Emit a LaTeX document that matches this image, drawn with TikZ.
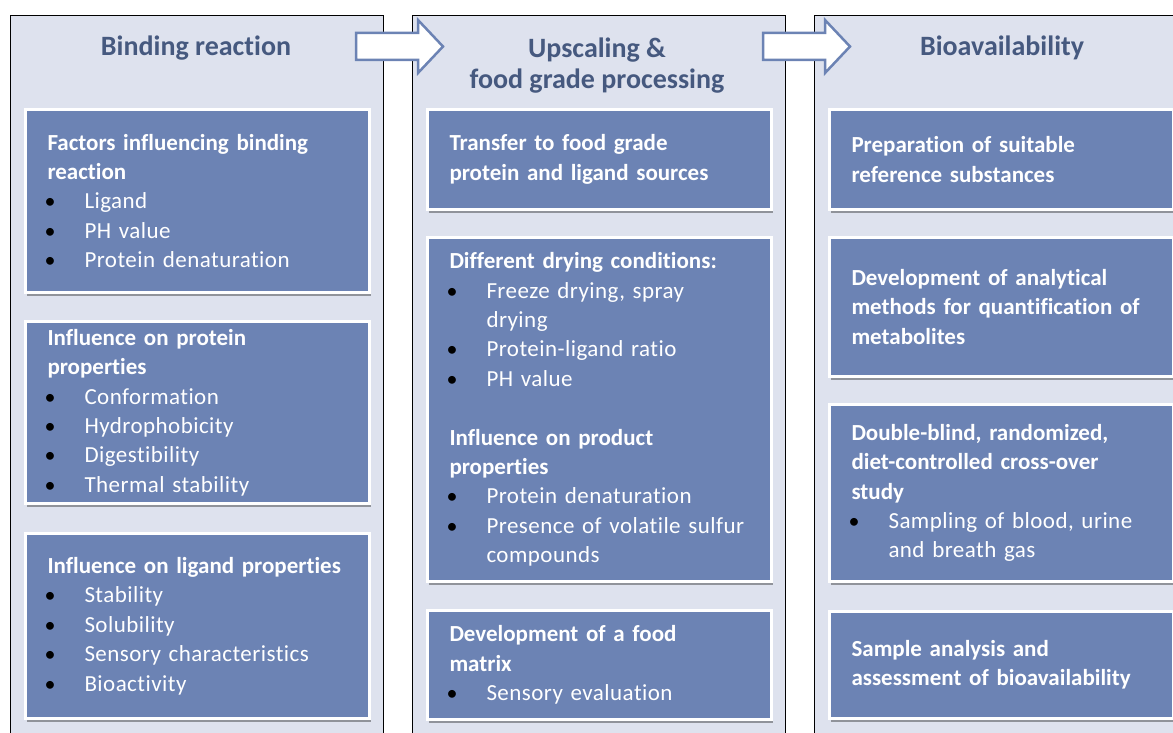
\documentclass[tikz,border=0pt]{standalone}
\usepackage{fontspec}
\setmainfont{Carlito}[Ligatures = NoCommon]
\newfontfamily\itemfont[LetterSpace = 2, Ligatures = NoCommon]{Carlito}
\usetikzlibrary{shadows}

\definecolor{panelbg}{HTML}{DEE2EE}
\definecolor{boxblue}{HTML}{6C83B4}
\definecolor{headblue}{HTML}{46597F}

% bullet line and its continuation
\newcommand{\bul}[1]{\makebox[37pt][l]{\hspace*{-3pt}\color{black}\fontsize{22}{22}\selectfont\textbullet}{\itemfont #1}}
\newcommand{\cont}[1]{\hspace*{37pt}{\itemfont #1}}

\tikzset{
  panel/.style = {draw = black, line width = 1.2pt, fill = panelbg, anchor = north west,
                  minimum width = 373pt, minimum height = 760pt},
  heading/.style = {text = headblue, font = \fontsize{28}{31}\selectfont\bfseries, align = center},
  infobox/.style = {draw = white, line width = 3pt, fill = boxblue, text = white,
                    anchor = north west, align = left, inner xsep = 22pt,
                    text width = 300pt, font = \fontsize{23}{29.4}\selectfont,
                    drop shadow = {shadow xshift = 1.5pt, shadow yshift = -3pt,
                                   fill = black, opacity = .35}},
  blockarrow/.style = {draw = boxblue, line width = 2.5pt, fill = white, line join = miter}
}

\begin{document}
\begin{tikzpicture}[x = 1pt, y = -1pt]

	\useasboundingbox (0, 0) rectangle (1173, 733);
	\clip (0, 0) rectangle (1173, 733);

	% Three columns

	\node [panel] (colBind) at (10, 15) {};
	\node [panel] (colScale) at (412, 15) {};
	\node [panel] (colBio) at (814, 15) {};

	\node [heading] (headBind) at (196, 48) {Binding reaction};
	\node [heading] (headScale) at (597, 66) {Upscaling \&\\food grade processing};
	\node [heading] (headBio) at (1002, 48) {Bioavailability};

	% Block arrows between columns

	\draw [blockarrow] (356, 33) -- (418, 33) -- (418, 20) -- (443, 46.5) -- (418, 73) -- (418, 60) -- (356, 60) -- cycle;
	\draw [blockarrow] (763, 33) -- (825, 33) -- (825, 20) -- (850, 46.5) -- (825, 73) -- (825, 60) -- (763, 60) -- cycle;

	% Binding reaction

	\node [infobox, minimum height = 183pt] (bindFactors) at (24, 108)
		{\textbf{Factors influencing binding}\\ \textbf{reaction}\\ \bul{Ligand}\\ \bul{PH value}\\ \bul{Protein denaturation}};
	\node [infobox, minimum height = 182pt] (bindProtein) at (24, 320)
		{\textbf{Influence on protein}\\ \textbf{properties}\\ \bul{Conformation}\\ \bul{Hydrophobicity}\\ \bul{Digestibility}\\ \bul{Thermal stability}};
	\node [infobox, minimum height = 185pt] (bindLigand) at (24, 532)
		{\textbf{Influence on ligand properties}\\ \bul{Stability}\\ \bul{Solubility}\\ \bul{Sensory characteristics}\\ \bul{Bioactivity}};

	% Upscaling and food grade processing

	\node [infobox, minimum height = 100pt] (scaleTransfer) at (426, 108)
		{\textbf{Transfer to food grade}\\ \textbf{protein and ligand sources}};
	\node [infobox, minimum height = 344pt] (scaleDrying) at (426, 236)
		{\textbf{Different drying conditions:}\\ \bul{Freeze drying, spray}\\ \cont{drying}\\ \bul{Protein-ligand ratio}\\ \bul{PH value}\\[29.4pt]
		 \textbf{Influence on product}\\ \textbf{properties}\\ \bul{Protein denaturation}\\ \bul{Presence of volatile sulfur}\\ \cont{compounds}};
	\node [infobox, minimum height = 109pt] (scaleMatrix) at (426, 609)
		{\textbf{Development of a food}\\ \textbf{matrix}\\ \bul{Sensory evaluation}};

	% Bioavailability

	\node [infobox, minimum height = 100pt] (bioReference) at (828, 108)
		{\textbf{Preparation of suitable}\\ \textbf{reference substances}};
	\node [infobox, minimum height = 139pt] (bioMethods) at (828, 236)
		{\textbf{Development of analytical}\\ \textbf{methods for quantification of}\\ \textbf{metabolites}};
	\node [infobox, minimum height = 177pt] (bioStudy) at (828, 403)
		{\textbf{Double-blind, randomized,}\\ \textbf{diet-controlled cross-over}\\ \textbf{study}\\ \bul{Sampling of blood, urine}\\ \cont{and breath gas}};
	\node [infobox, minimum height = 107pt] (bioAnalysis) at (828, 610)
		{\textbf{Sample analysis and}\\ \textbf{assessment of bioavailability}};

\end{tikzpicture}
\end{document}
